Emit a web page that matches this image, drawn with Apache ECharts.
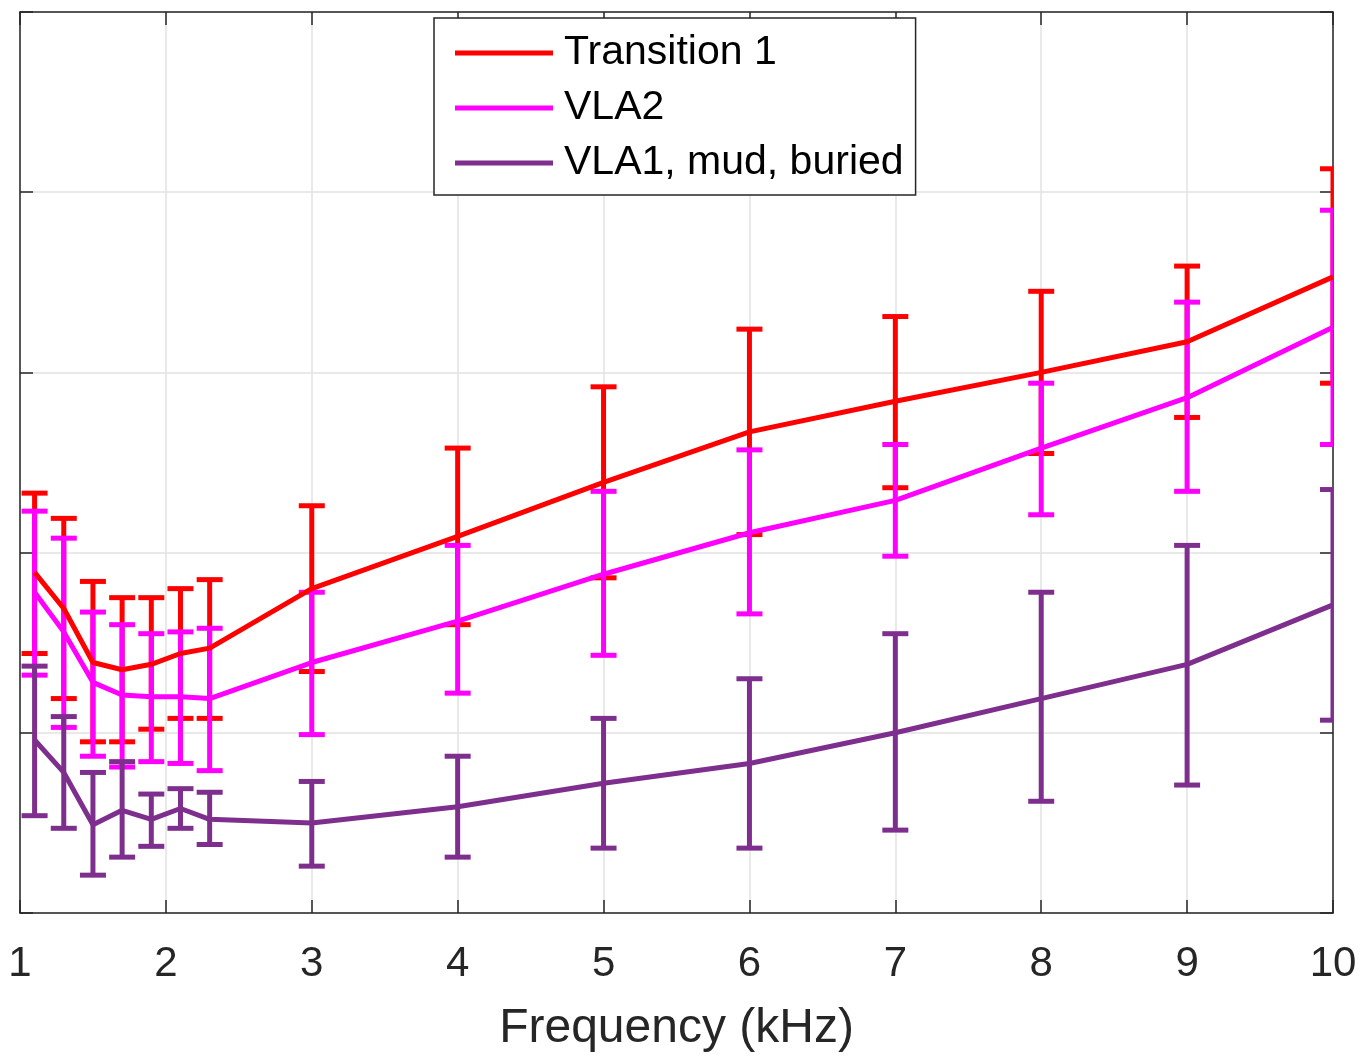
<!DOCTYPE html>
<html>
<head>
<meta charset="utf-8">
<script src="https://cdn.jsdelivr.net/npm/echarts@6/dist/echarts.min.js"></script>
<style>
  html, body { margin: 0; padding: 0; background: #fff; }
  #main { width: 1362px; height: 1056px; }
</style>
</head>
<body>
<div id="main"></div>
<script>
// frequencies (kHz)
const freq = [1.1, 1.3, 1.5, 1.7, 1.9, 2.1, 2.3, 3, 4, 5, 6, 7, 8, 9, 10];

// Transition 1
const t1Mean = [1.89, 1.69, 1.39, 1.35, 1.38, 1.44, 1.47, 1.80, 2.09, 2.39, 2.67, 2.84, 3.00, 3.17, 3.53];
const t1Low  = [1.44, 1.19, 0.95, 0.95, 1.02, 1.08, 1.08, 1.34, 1.60, 1.86, 2.10, 2.36, 2.55, 2.75, 2.94];
const t1High = [2.33, 2.19, 1.84, 1.75, 1.75, 1.80, 1.85, 2.26, 2.58, 2.92, 3.24, 3.31, 3.45, 3.59, 4.13];

// VLA2
const vla2Mean = [1.78, 1.56, 1.28, 1.21, 1.20, 1.20, 1.19, 1.39, 1.62, 1.88, 2.11, 2.29, 2.58, 2.86, 3.25];
const vla2Low  = [1.32, 1.03, 0.87, 0.81, 0.84, 0.83, 0.79, 0.99, 1.22, 1.43, 1.66, 1.98, 2.21, 2.34, 2.60];
const vla2High = [2.23, 2.08, 1.67, 1.60, 1.55, 1.56, 1.58, 1.78, 2.04, 2.34, 2.57, 2.60, 2.94, 3.39, 3.90];

// VLA1, mud, buried
const vla1Mean = [0.96, 0.78, 0.49, 0.57, 0.52, 0.58, 0.52, 0.50, 0.59, 0.72, 0.83, 1.00, 1.19, 1.38, 1.71];
const vla1Low  = [0.54, 0.47, 0.21, 0.31, 0.37, 0.47, 0.38, 0.26, 0.31, 0.36, 0.36, 0.46, 0.62, 0.71, 1.07];
const vla1High = [1.37, 1.09, 0.78, 0.84, 0.66, 0.69, 0.67, 0.73, 0.87, 1.08, 1.30, 1.55, 1.78, 2.04, 2.35];

const seriesNames = ['Transition 1', 'VLA2', 'VLA1, mud, buried'];
const colors = ['#ff0000', '#ff00ff', '#7e2f8e'];

const fontFamily = '"Liberation Sans", Arial, Helvetica, sans-serif';
const axisColor = '#262626';

function errorRenderer(color) {
  return function (params, api) {
    const x = api.value(0);
    const pLo = api.coord([x, api.value(1)]);
    const pHi = api.coord([x, api.value(2)]);
    const hw = 13;
    const style = { stroke: color, lineWidth: 5 };
    return {
      type: 'group',
      children: [
        { type: 'line', shape: { x1: pHi[0], y1: pHi[1], x2: pLo[0], y2: pLo[1] }, style: style },
        { type: 'line', shape: { x1: pHi[0] - hw, y1: pHi[1], x2: pHi[0] + hw, y2: pHi[1] }, style: style },
        { type: 'line', shape: { x1: pLo[0] - hw, y1: pLo[1], x2: pLo[0] + hw, y2: pLo[1] }, style: style }
      ]
    };
  };
}

function buildSeries(name, color, mean, low, high) {
  return [
    {
      name: name,
      type: 'line',
      data: freq.map((f, i) => [f, mean[i]]),
      symbol: 'none',
      color: color,
      lineStyle: { width: 5, color: color },
      animation: false
    },
    {
      name: name + ' err',
      type: 'custom',
      clip: true,
      data: freq.map((f, i) => [f, low[i], high[i]]),
      renderItem: errorRenderer(color),
      animation: false
    }
  ];
}

const chart = echarts.init(document.getElementById('main'));

const options = {
  backgroundColor: '#ffffff',
  textStyle: { fontFamily: fontFamily },
  grid: {
    left: 20,
    right: 29,
    top: 12,
    bottom: 143,
    containLabel: false,
    outerBoundsMode: 'none'
  },
  legend: {
    data: seriesNames,
    orient: 'vertical',
    left: 434,
    top: 18,
    icon: 'rect',
    itemWidth: 98,
    itemHeight: 5,
    itemGap: 7,
    padding: [11, 12, 8, 21],
    backgroundColor: '#ffffff',
    borderColor: axisColor,
    borderWidth: 1.5,
    borderRadius: 0,
    z: 10,
    textStyle: {
      fontFamily: fontFamily,
      fontSize: 41,
      lineHeight: 48,
      color: '#000',
      padding: [0, 0, 0, 6]
    }
  },
  xAxis: [
    {
      type: 'value',
      min: 1,
      max: 10,
      interval: 1,
      name: 'Frequency (kHz)',
      nameLocation: 'middle',
      nameGap: 92,
      nameTextStyle: { fontSize: 48, color: axisColor, fontFamily: fontFamily },
      axisLine: { show: true, onZero: false, lineStyle: { color: axisColor, width: 1.5 } },
      axisTick: { show: true, inside: true, length: 13, lineStyle: { color: axisColor, width: 1.5 } },
      axisLabel: { fontSize: 42, color: axisColor, margin: 30, fontFamily: fontFamily },
      splitLine: { show: true, lineStyle: { color: '#e2e2e2', width: 1.5 } }
    },
    {
      type: 'value',
      position: 'top',
      min: 1,
      max: 10,
      interval: 1,
      axisLine: { show: true, onZero: false, lineStyle: { color: axisColor, width: 1.5 } },
      axisTick: { show: true, inside: true, length: 13, lineStyle: { color: axisColor, width: 1.5 } },
      axisLabel: { show: false },
      splitLine: { show: false }
    }
  ],
  yAxis: [
    {
      type: 'value',
      min: 0,
      max: 5,
      interval: 1,
      axisLine: { show: true, onZero: false, lineStyle: { color: axisColor, width: 1.5 } },
      axisTick: { show: true, inside: true, length: 13, lineStyle: { color: axisColor, width: 1.5 } },
      axisLabel: { show: false },
      splitLine: { show: true, lineStyle: { color: '#e2e2e2', width: 1.5 } }
    },
    {
      type: 'value',
      position: 'right',
      min: 0,
      max: 5,
      interval: 1,
      axisLine: { show: true, onZero: false, lineStyle: { color: axisColor, width: 1.5 } },
      axisTick: { show: true, inside: true, length: 13, lineStyle: { color: axisColor, width: 1.5 } },
      axisLabel: { show: false },
      splitLine: { show: false }
    }
  ],
  series: [].concat(
    buildSeries(seriesNames[0], colors[0], t1Mean, t1Low, t1High),
    buildSeries(seriesNames[1], colors[1], vla2Mean, vla2Low, vla2High),
    buildSeries(seriesNames[2], colors[2], vla1Mean, vla1Low, vla1High)
  )
};

chart.setOption(options);
</script>
</body>
</html>
